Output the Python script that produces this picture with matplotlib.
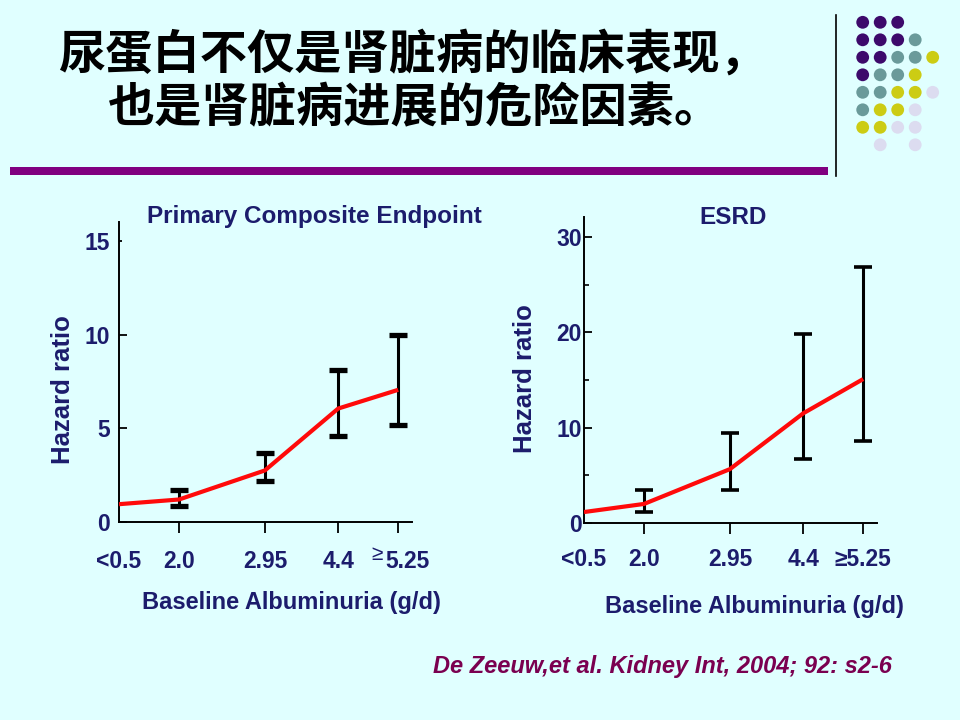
import numpy as np
import matplotlib
matplotlib.use("Agg")
import matplotlib.pyplot as plt
import matplotlib.transforms as mtrans
from matplotlib.patches import Rectangle, Circle

plt.rcParams['font.family'] = ['Liberation Sans', 'DejaVu Sans']

# data
albu_labels = ['<0.5', '2.0', '2.95', '4.4', '5.25']
albu_pos = [0, 1, 2.43, 3.65, 4.65]          # spacing of the categories on the slide

comp_hr = [0.95, 1.2, 2.75, 6.05, 7.05]
comp_lo = [np.nan, 0.85, 2.2, 4.6, 5.15]
comp_hi = [np.nan, 1.7, 3.7, 8.1, 10.0]

esrd_hr = [1.15, 2.0, 5.65, 11.5, 15.1]
esrd_lo = [np.nan, 1.15, 3.45, 6.7, 8.6]
esrd_hi = [np.nan, 3.45, 9.4, 19.8, 26.9]

title_lines = ['尿蛋白不仅是肾脏病的临床表现，', '也是肾脏病进展的危险因素。']
citation = 'De Zeeuw,et al. Kidney Int, 2004; 92: s2-6'

dot_rows = ['PPP..', 'PPPT.', 'PPTTY', 'PTTY.', 'TTYYL', 'TYYL.', 'YYLL.', '.L.L.']
dot_colors = {'P': '#3d0a6b', 'T': '#6a9a9a', 'Y': '#cccc14', 'L': '#dcdcf0'}

BG = '#e0ffff'
NAVY = '#1c1c6c'
W, H = 960, 720


def fx(x):
    return x / W


def fy(y):
    return 1 - y / H


fig = plt.figure(figsize=(9.6, 7.2), dpi=100, facecolor=BG)

# decorations in pixel coordinates
deco = fig.add_axes([0, 0, 1, 1], zorder=0)
deco.set_xlim(0, W)
deco.set_ylim(H, 0)
deco.axis('off')
deco.add_patch(Rectangle((10, 167), 818, 8, color='#800080', lw=0))
deco.plot([836, 836], [15, 176], color='black', lw=1.2)
for r, row in enumerate(dot_rows):
    for c, k in enumerate(row):
        if k == '.':
            continue
        deco.add_patch(Circle((862.7 + c * 17.5, 22.3 + r * 17.5), 6.4,
                              color=dot_colors[k], lw=0))

fig.text(fx(412), fy(55), title_lines[0], ha='center', va='center',
         fontsize=34, fontweight='bold', color='black',
         family=['Noto Sans CJK SC', 'DejaVu Sans'])
fig.text(fx(415), fy(108), title_lines[1], ha='center', va='center',
         fontsize=34, fontweight='bold', color='black',
         family=['Noto Sans CJK SC', 'DejaVu Sans'])

fig.text(fx(662), fy(667), citation, ha='center', va='center', fontsize=17,
         fontweight='bold', fontstyle='italic', color='#7a0050')


def panel(rect, hr, lo, hi, ymax, yticks, minor, ylab_pad, xlab_pad, capthick):
    ax = fig.add_axes(rect, zorder=2)
    ax.set_facecolor('none')
    hr = np.array(hr)
    lo = np.array(lo)
    hi = np.array(hi)
    ax.errorbar(albu_pos[1:], hr[1:], yerr=[hr[1:] - lo[1:], hi[1:] - hr[1:]],
                fmt='none', ecolor='black', elinewidth=2.2, capsize=6.5,
                capthick=capthick, zorder=3)
    ax.plot(albu_pos, hr, color='#ff0a0a', lw=3, zorder=4, solid_capstyle='butt')
    ax.set_xlim(0, 4.88)
    ax.set_ylim(0, ymax)
    for s in ['top', 'right']:
        ax.spines[s].set_visible(False)
    for s in ['left', 'bottom']:
        ax.spines[s].set_linewidth(1.4)
    ax.set_yticks(yticks)
    if minor:
        ax.set_yticks(minor, minor=True)
    ax.tick_params(axis='y', direction='in', length=6, width=1.3,
                   pad=ylab_pad, labelsize=16.5, labelcolor=NAVY)
    ax.tick_params(axis='y', which='minor', direction='in', length=3.5, width=1.2)
    ax.set_yticklabels([str(t) for t in yticks], fontweight='bold')
    ax.set_xticks(albu_pos)
    ax.tick_params(axis='x', direction='out', length=8, width=1.3,
                   pad=xlab_pad, labelsize=16.5, labelcolor=NAVY)
    ax.xaxis.get_major_ticks()[0].tick1line.set_visible(False)
    return ax


ax1 = panel([fx(119), fy(522), fx(293), 300 / H], comp_hr, comp_lo, comp_hi,
            16, [0, 5, 10, 15], None, 6.5, 12, 3.8)
ax1.set_xticklabels(albu_labels, fontweight='bold')
# the 15 tick on the slide is only a tiny mark
ax1.yaxis.get_major_ticks()[3].tick1line.set_markersize(2)
# on the slide the last label sits right of its tick, with a raised sign before it
last = ax1.get_xticklabels()[4]
last.set_transform(last.get_transform()
                   + mtrans.ScaledTranslation(9 / 100, 0, fig.dpi_scale_trans))
ax1.annotate('≥', xy=(albu_pos[4], 0), xycoords=('data', 'axes fraction'),
             xytext=(-15, -23.5), textcoords='offset points', ha='center',
             va='center', fontsize=15, color=NAVY)

ax2 = panel([fx(584), fy(523), fx(293), 306 / H], esrd_hr, esrd_lo, esrd_hi,
            32.1, [0, 10, 20, 30], [5, 15, 25], 1.5, 10, 2.6)
ax2.set_xticklabels(albu_labels[:4] + ['≥' + albu_labels[4]], fontweight='bold')

for cx, cy, t in [(314, 217, 'Primary Composite Endpoint'), (733, 217, 'ESRD')]:
    fig.text(fx(cx), fy(cy), t, ha='center', va='center', fontsize=17.5,
             fontweight='bold', color=NAVY)
for cx, cy in [(291, 603), (754, 607)]:
    fig.text(fx(cx), fy(cy), 'Baseline Albuminuria (g/d)', ha='center',
             va='center', fontsize=17, fontweight='bold', color=NAVY)
for cx, cy in [(63, 390), (525, 379)]:
    fig.text(fx(cx), fy(cy), 'Hazard ratio', ha='center', va='center',
             rotation=90, fontsize=18.5, fontweight='bold', color=NAVY)

fig.savefig('out.png', dpi=100, facecolor=BG)
